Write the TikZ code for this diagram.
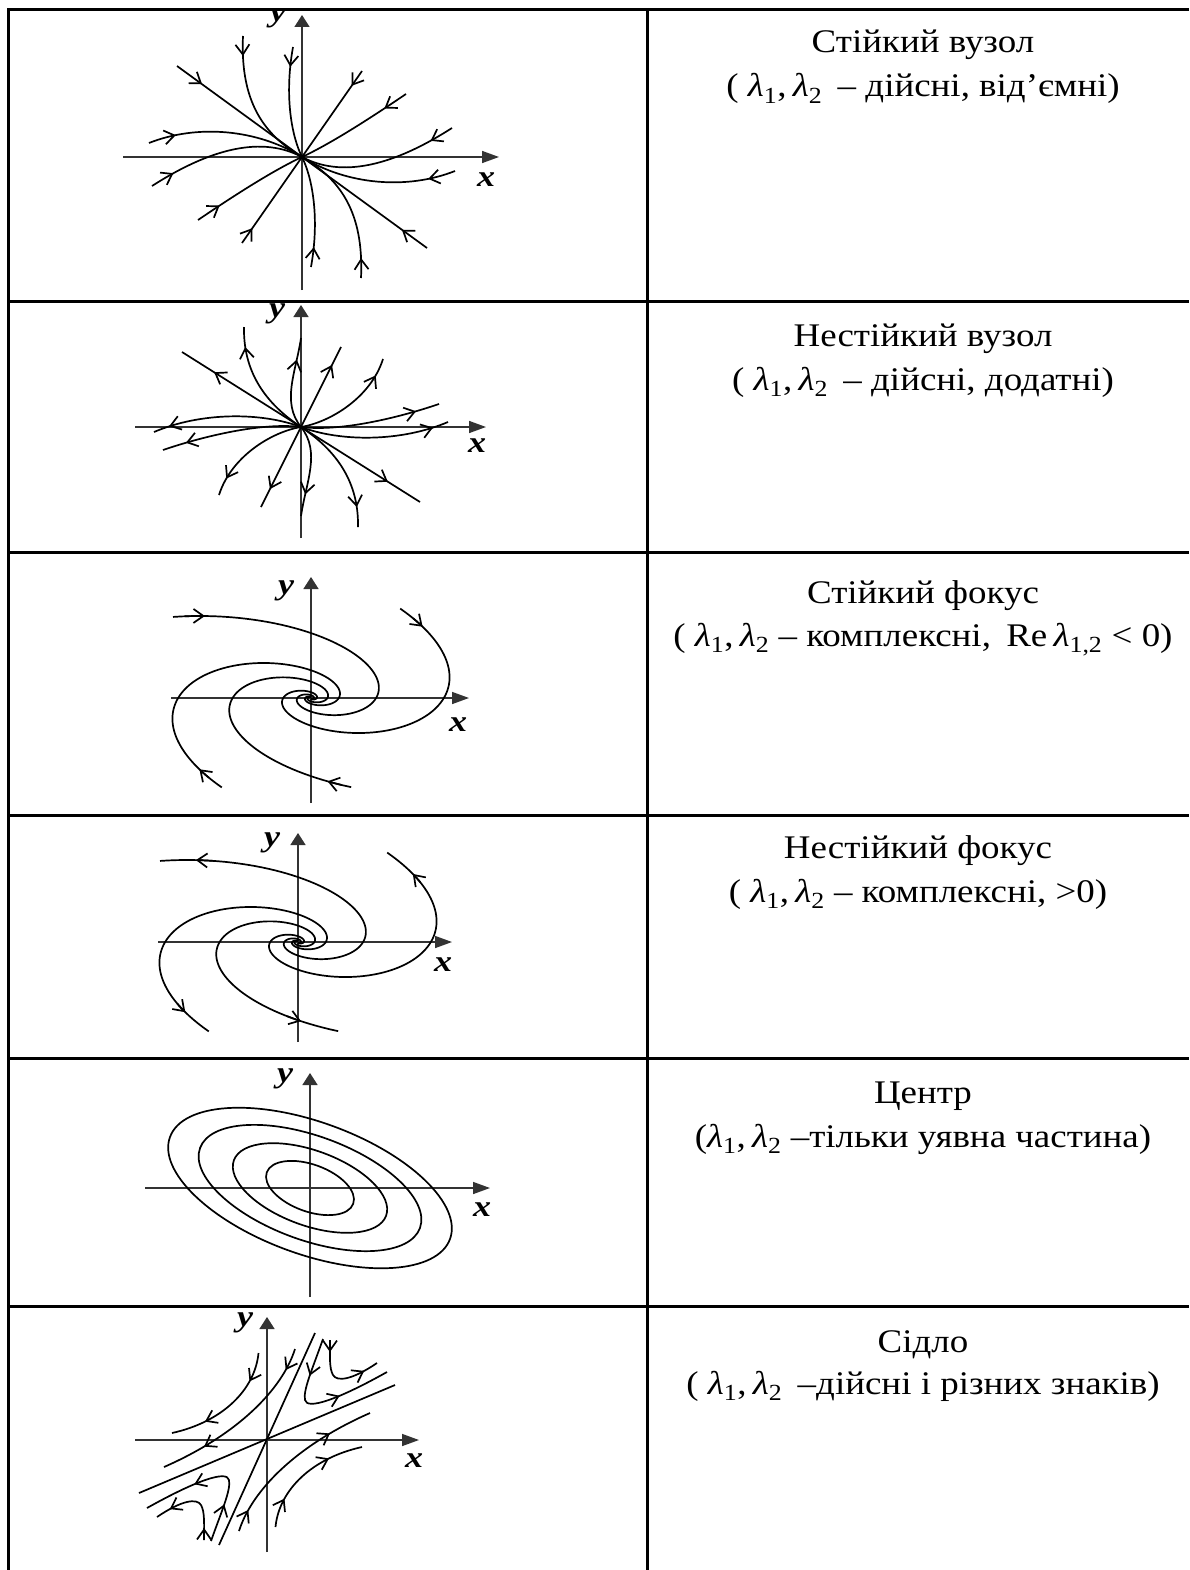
\documentclass[tikz,border=0pt]{standalone}
\usepackage{fontspec}
\setmainfont{Liberation Serif}
\usetikzlibrary{arrows.meta,decorations.markings}

\tikzset{
  grid line/.style={line width=3pt},
  axis/.style={line width=1.5pt,black!80},
  xaxis/.style={axis,-{Triangle[length=17pt,width=12pt]}},
  yaxis/.style={axis,-{Triangle[length=12pt,width=15pt]}},
  traj/.style={line width=1.7pt},
  arr/.style={postaction={decorate},decoration={markings,
      mark=at position #1 with {\arrow{Straight Barb[length=10pt,width=14pt]}}}},
  arrr/.style 2 args={postaction={decorate},decoration={markings,
      mark=at position #1 with {\arrow{Straight Barb[length=10pt,width=14pt]}},
      mark=at position #2 with {\arrow{Straight Barb[length=10pt,width=14pt]}}}},
  axlabel/.style={font=\fontsize{30}{30}\selectfont\bfseries\itshape,xscale=1.2,transform shape,inner sep=0pt},
  caption/.style={font=\fontsize{33}{40}\selectfont,xscale=1.12,transform shape,inner sep=0pt,anchor=base},
}

% lambda with index
\newcommand{\lmb}[1]{\textit{λ}\textsubscript{#1}}
% one trajectory of the focus: scale, start angle (rad)
\newcommand{\focuscurve}[2]{%
  \draw[traj] plot[domain=-8:#2,samples=250,variable=\t]
    ({#1*exp(0.498*\t)*123*cos(\t r)},{#1*exp(0.498*\t)*(60.6*sin(\t r)-11.8*cos(\t r))});
}
% short piece of it with an arrow: scale, angle, angle, tip
\newcommand{\focusarrow}[4]{%
  \draw[traj,#4] plot[domain=#2:#3,samples=5,variable=\t]
    ({#1*exp(0.498*\t)*123*cos(\t r)},{#1*exp(0.498*\t)*(60.6*sin(\t r)-11.8*cos(\t r))});
}

\begin{document}
\begin{tikzpicture}[x=1pt,y=1pt]
\fill[white] (0,0) rectangle (1189,-1570);
\useasboundingbox (0,0) rectangle (1189,-1570);

%stable node
\begin{scope}[shift={(302,-157)}]
\clip (-294,147) rectangle (345,-144);
\draw[xaxis] (-179,0) -- (197,0);
\draw[yaxis] (0,-133) -- (0,142);
\node[axlabel] (y1) at (-24,139) {y};
\node[axlabel] (x1) at (184,-23) {x};
\foreach \r in {0,180}{
\begin{scope}[rotate=\r]
\draw[traj,arr=28pt] (-153,14) .. controls (-105,33) and (-45,28) .. (0,0);
\draw[traj,arr=25pt] (-150,-29) .. controls (-100,3) and (-45,24) .. (0,0);
\draw[traj,arr=26pt] (-104,-63) .. controls (-70,-40) and (-30,-14) .. (0,0);
\draw[traj,arr=18pt] (-60,-86) -- (0,0);
\draw[traj,arr=20pt] (9,-110) .. controls (18,-60) and (10,-20) .. (0,0);
\draw[traj,arr=20pt] (59,-121) .. controls (62,-55) and (38,-22) .. (0,0);
\draw[traj,arr=31pt] (125,-91) -- (0,0);
\end{scope}}
\end{scope}

%unstable node
\begin{scope}[shift={(301,-427)}]
\draw[xaxis] (-166,0) -- (185,0);
\draw[yaxis] (0,-111) -- (0,122);
\node[axlabel] (y2) at (-24,113) {y};
\node[axlabel] (x2) at (176,-19) {x};
\foreach \r in {0,180}{
\begin{scope}[rotate=\r]
\draw[traj,arr=-38pt] (0,0) -- (-119,75);
\draw[traj,arr=-20pt] (0,0) .. controls (-30,20) and (-58,50) .. (-57,100);
\draw[traj,arr=-22pt] (0,0) .. controls (-20,25) and (-5,55) .. (0,89);
\draw[traj,arr=-20pt] (0,0) -- (40,80);
\draw[traj,arr=-18pt] (0,0) .. controls (30,5) and (70,30) .. (82,68);
\draw[traj,arr=-24pt] (0,0) .. controls (40,-5) and (100,10) .. (138,23);
\draw[traj,arr=-16pt] (0,0) .. controls (40,-15) and (100,-15) .. (147,5);
\end{scope}}
\end{scope}

%stable focus
\begin{scope}[shift={(311,-698)}]
\draw[xaxis] (-140,0) -- (158,0);
\draw[yaxis] (0,-105) -- (0,121);
\node[axlabel] (y3) at (-25,107) {y};
\node[axlabel] (x3) at (147,-27) {x};
\focuscurve{0.49}{2.36}
\focuscurve{1}{1.15}
\focuscurve{-1}{1.15}
\focuscurve{-0.59}{1.8}
\focusarrow{0.49}{2.2}{2.3}{{Straight Barb[length=10pt,width=14pt]}-}
\focusarrow{1}{0.98}{1.06}{{Straight Barb[length=10pt,width=14pt]}-}
\focusarrow{-1}{0.98}{1.06}{{Straight Barb[length=10pt,width=14pt]}-}
\focusarrow{-0.59}{1.67}{1.75}{{Straight Barb[length=10pt,width=14pt]}-}
\end{scope}

%unstable focus
\begin{scope}[shift={(298,-942)}]
\draw[xaxis] (-140,0) -- (154,0);
\draw[yaxis] (0,-100) -- (0,109);
\node[axlabel] (y4) at (-26,99) {y};
\node[axlabel] (x4) at (145,-23) {x};
\focuscurve{0.49}{2.36}
\focuscurve{1}{1.15}
\focuscurve{-1}{1.15}
\focuscurve{-0.59}{1.8}
\focusarrow{0.49}{2.08}{2.18}{-{Straight Barb[length=10pt,width=14pt]}}
\focusarrow{1}{0.87}{0.95}{-{Straight Barb[length=10pt,width=14pt]}}
\focusarrow{-1}{0.89}{0.97}{-{Straight Barb[length=10pt,width=14pt]}}
\focusarrow{-0.59}{1.5}{1.59}{-{Straight Barb[length=10pt,width=14pt]}}
\end{scope}

%centre
\begin{scope}[shift={(310,-1188)}]
\draw[xaxis] (-165,0) -- (180,0);
\draw[yaxis] (0,-109) -- (0,115);
\node[axlabel] (y5) at (-25,109) {y};
\node[axlabel] (x5) at (172,-22) {x};
\foreach \a/\b in {46/23.5,81/37.5,117/52,149/66}
  \draw[traj,rotate=-20] (0,0) ellipse [x radius=\a,y radius=\b];
\end{scope}

%saddle
\begin{scope}[shift={(267,-1440)}]
\draw[xaxis] (-132,0) -- (152,0);
\draw[yaxis] (0,-112) -- (0,123);
\node[axlabel] (y6) at (-22,117) {y};
\node[axlabel] (x6) at (147,-21) {x};
\draw[traj] (-48,-105) -- (48,107);
\draw[traj] (-128,-53) -- (128,55);
\foreach \r in {0,180}{
\begin{scope}[rotate=\r]
\draw[traj,arrr={30pt}{-35pt}] (-8.5,87) .. controls (-12,50) and (-45,18) .. (-95,7);
\draw[traj,arrr={23pt}{-45pt}] (28,91) .. controls (15,50) and (-30,5) .. (-103,-27);
\draw[traj,arrr={12pt}{-15pt}] (63,100) .. controls (63,85) and (62,72) .. (66,65)
  .. controls (70,58) and (85,60) .. (110,77);
\draw[traj,arrr={39pt}{-53pt}] (56,101) .. controls (45,70) and (36,50) .. (38,40)
  .. controls (40,30) and (70,40) .. (120,68);
\end{scope}}
\end{scope}

%captions
\node[caption] (t1a) at (923,-53) {Стійкий вузол};
\node[caption] (t1b) at (923,-97) {( \lmb{1},\,\lmb{2}\, – дійсні, від’ємні)};
\node[caption] (t2a) at (923,-346) {Нестійкий вузол};
\node[caption] (t2b) at (923,-390) {( \lmb{1},\,\lmb{2}\, – дійсні, додатні)};
\node[caption] (t3a) at (923,-603) {Стійкий фокус};
\node[caption] (t3b) at (923,-646) {( \lmb{1},\,\lmb{2} – комплексні,\, Re\,\lmb{1,2} < 0)};
\node[caption] (t4a) at (918,-858) {Нестійкий фокус};
\node[caption] (t4b) at (918,-902) {( \lmb{1},\,\lmb{2} – комплексні, >0)};
\node[caption] (t5a) at (923,-1103) {Центр};
\node[caption] (t5b) at (923,-1147) {(\lmb{1},\,\lmb{2} –тільки уявна частина)};
\node[caption] (t6a) at (923,-1352) {Сідло};
\node[caption] (t6b) at (923,-1394) {( \lmb{1},\,\lmb{2}\, –дійсні і різних знаків)};

%table
\draw[grid line] (1189,-10) -- (8,-10) -- (8,-1570);
\draw[grid line] (647,-10) -- (647,-1570);
\foreach \y in {301,552,815,1058,1306}
  \draw[grid line] (8,-\y) -- (1189,-\y);
\end{tikzpicture}
\end{document}
